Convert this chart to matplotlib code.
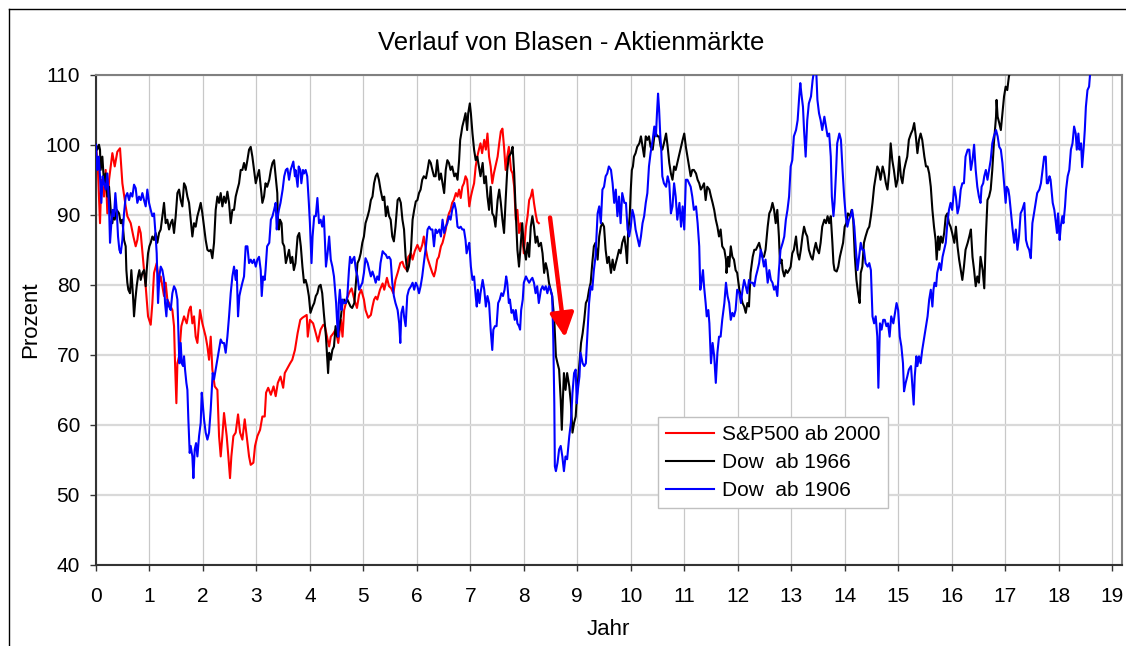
import matplotlib
matplotlib.use("Agg")
import matplotlib.pyplot as plt
from matplotlib.lines import Line2D

# ---------------- data (years since start, percent of start value) ----------------
sp_x = [0.0, 0.038, 0.075, 0.1, 0.15, 0.181, 0.212, 0.244, 0.306, 0.35, 0.399, 0.449, 0.493, 0.555, 0.586,
        0.649, 0.699, 0.742, 0.773, 0.805, 0.836, 0.898, 0.929, 0.973, 1.023, 1.054, 1.085, 1.135, 1.179, 1.21,
        1.241, 1.272, 1.303, 1.334, 1.397, 1.428, 1.459, 1.478, 1.503, 1.522, 1.553, 1.596, 1.646, 1.696, 1.74,
        1.771, 1.802, 1.833, 1.864, 1.896, 1.945, 1.989, 2.051, 2.083, 2.114, 2.145, 2.176, 2.22, 2.27, 2.301,
        2.332, 2.363, 2.394, 2.444, 2.475, 2.506, 2.531, 2.569, 2.612, 2.656, 2.694, 2.737, 2.781, 2.818, 2.862,
        2.893, 2.943, 2.974, 3.018, 3.068, 3.111, 3.155, 3.18,
        3.22, 3.27, 3.32, 3.36, 3.40, 3.45, 3.50, 3.53, 3.58, 3.63, 3.67, 3.72, 3.77, 3.82, 3.86, 3.90, 3.94,
        3.96, 4.0, 4.06, 4.11, 4.15, 4.2, 4.25, 4.28, 4.33, 4.36, 4.39, 4.44, 4.48, 4.53, 4.58, 4.61, 4.64, 4.69,
        4.73, 4.78, 4.83, 4.88, 4.92, 4.96, 5.01, 5.04, 5.09, 5.14, 5.17, 5.2, 5.23, 5.26, 5.31, 5.36, 5.39, 5.44,
        5.48, 5.52, 5.56, 5.6, 5.64, 5.69, 5.73, 5.76, 5.81, 5.84, 5.89, 5.92, 5.96, 6.01, 6.06, 6.1, 6.13, 6.17,
        6.2, 6.25, 6.29, 6.32,
        6.35, 6.38, 6.41, 6.45, 6.48, 6.51, 6.54, 6.57, 6.6, 6.63, 6.66, 6.69, 6.73, 6.76, 6.79, 6.82, 6.85, 6.88,
        6.91, 6.94, 6.98, 7.01, 7.04, 7.07, 7.1, 7.13, 7.16, 7.19, 7.22, 7.26, 7.29, 7.32, 7.35, 7.38, 7.41, 7.44,
        7.47, 7.51, 7.54, 7.57, 7.6, 7.63, 7.66, 7.69, 7.72, 7.76, 7.79, 7.82, 7.85, 7.88, 7.91, 7.94, 7.97, 8.0,
        8.04, 8.07, 8.1, 8.13, 8.16, 8.19, 8.22, 8.25, 8.28]
sp_y = [100.0, 96.0, 88.8, 95.0, 92.6, 96.4, 90.2, 95.0, 98.8, 96.9, 99.0, 99.5, 94.5, 91.2, 89.8,
        88.8, 86.9, 85.5, 86.4, 88.3, 87.4, 82.1, 79.8, 75.5, 74.3, 77.4, 81.7, 83.1, 80.3, 81.2,
        79.8, 78.4, 80.3, 77.9, 76.9, 76.4, 74.1, 68.8, 63.1, 68.8, 69.8, 74.1, 75.5, 74.5, 76.4,
        76.9, 74.5, 75.5, 72.6, 71.7, 76.4, 74.5, 72.6, 71.2, 69.3, 72.6, 67.9, 65.5, 65.0, 58.4,
        55.5, 58.4, 61.7, 58.4, 55.5, 52.4, 55.5, 58.4, 58.9, 61.5, 58.9, 57.9, 60.8, 58.4, 55.5,
        54.3, 54.6, 57.0, 58.4, 59.3, 61.2, 61.2, 64.6,
        65.3, 64.3, 65.5, 64.1, 66.0, 66.9, 65.3, 67.4, 68.1, 68.8, 69.3, 70.7, 73.1, 75.0, 75.3, 75.5, 75.7,
        72.6, 75.0, 74.5, 73.1, 71.9, 73.6, 74.3, 74.1, 72.2, 71.2, 72.6, 73.1, 73.6, 71.7, 75.0, 72.6, 76.4, 77.9,
        78.8, 79.5, 77.9, 76.7, 78.6, 79.3, 77.9, 76.4, 75.3, 75.7, 76.9, 77.9, 78.3, 77.9, 79.3, 80.2, 79.3, 81.0,
        79.8, 79.5, 78.8, 80.7, 81.7, 83.1, 83.3, 82.6, 82.1, 84.0, 84.5, 83.6, 84.8, 85.7, 84.8, 85.7, 86.9, 85.0,
        83.8, 82.6, 81.7, 81.2,
        82.1, 83.6, 84.0, 85.5, 86.0, 86.9, 87.9, 89.3, 90.2, 90.7, 91.7, 92.1, 93.1, 92.6, 93.6, 92.4, 94.0, 94.5,
        95.5, 95.0, 91.2, 92.6, 93.6, 94.5, 96.9, 98.3, 99.3, 100.2, 98.8, 100.7, 99.3, 101.6, 98.3, 96.9, 94.5, 95.9,
        96.9, 98.3, 100.2, 101.9, 102.3, 99.7, 96.4, 98.3, 99.7, 96.4, 95.9, 94.0, 89.3, 90.7, 87.4, 88.8, 86.9, 84.5,
        88.3, 89.8, 92.1, 92.6, 93.6, 91.7, 90.2, 89.0, 88.8]

dow66_x = [0.0, 0.025, 0.056, 0.075, 0.087, 0.119, 0.15, 0.181, 0.212, 0.244, 0.275, 0.306, 0.325, 0.35, 0.387,
           0.431, 0.462, 0.493, 0.524, 0.555, 0.568, 0.586, 0.605, 0.636, 0.661, 0.692, 0.711, 0.736, 0.761, 0.786,
           0.811, 0.836, 0.867, 0.898, 0.929, 0.948, 0.973, 0.998, 1.023, 1.054, 1.085, 1.116, 1.147, 1.179, 1.21,
           1.241, 1.272, 1.303, 1.334, 1.366, 1.397, 1.428, 1.459, 1.49, 1.522, 1.553, 1.584, 1.615, 1.646, 1.677,
           1.709, 1.74, 1.771, 1.802, 1.833, 1.864, 1.896, 1.927, 1.958, 1.989, 2.02, 2.051, 2.083, 2.114, 2.145,
           2.176, 2.207, 2.238, 2.27, 2.301, 2.332, 2.363, 2.394, 2.425, 2.457, 2.488, 2.519, 2.55, 2.581, 2.612,
           2.644, 2.675, 2.706, 2.737, 2.768, 2.799, 2.831, 2.862, 2.893, 2.924, 2.955, 2.987, 3.018, 3.049, 3.08,
           3.111, 3.142,
           3.17, 3.2, 3.24, 3.27, 3.3, 3.33, 3.36, 3.39, 3.40, 3.42, 3.44, 3.47, 3.49, 3.52, 3.55, 3.58, 3.61, 3.64,
           3.67, 3.70, 3.73, 3.77, 3.80, 3.83, 3.86, 3.89, 3.92, 3.95, 3.98, 4.01, 4.05, 4.08, 4.11, 4.14, 4.17, 4.2,
           4.23, 4.26, 4.3, 4.33, 4.34, 4.36, 4.39, 4.42, 4.45, 4.48, 4.51, 4.54, 4.58, 4.61, 4.64, 4.67, 4.7, 4.73,
           4.76, 4.79, 4.83, 4.86, 4.89, 4.92, 4.95, 4.98, 5.01, 5.04, 5.08, 5.11, 5.14, 5.17, 5.2, 5.23, 5.26, 5.29,
           5.32, 5.36, 5.39, 5.42, 5.45, 5.48, 5.51, 5.54, 5.57, 5.6, 5.64, 5.67, 5.7, 5.73, 5.76, 5.79, 5.82, 5.85,
           5.89, 5.92, 5.95, 5.98, 6.01, 6.04, 6.07, 6.1, 6.13, 6.17, 6.2, 6.23, 6.26, 6.29, 6.32,
           6.35, 6.38, 6.42, 6.45, 6.48, 6.51, 6.54, 6.57, 6.6, 6.63, 6.66, 6.7, 6.73, 6.76, 6.79, 6.81, 6.83, 6.85,
           6.88, 6.91, 6.94, 6.96, 6.99, 7.01, 7.04, 7.07, 7.1, 7.13, 7.16, 7.19, 7.23, 7.26, 7.29, 7.32, 7.35, 7.38,
           7.41, 7.44, 7.47, 7.51, 7.54, 7.57, 7.6, 7.63, 7.66, 7.69, 7.72, 7.76, 7.79, 7.82, 7.85, 7.88, 7.91, 7.94,
           7.97, 8.0, 8.04, 8.07, 8.1, 8.13, 8.16, 8.19, 8.22, 8.25, 8.28, 8.32, 8.35, 8.38, 8.41, 8.44, 8.47, 8.5,
           8.53, 8.57, 8.6, 8.63, 8.66, 8.69, 8.71, 8.73, 8.75, 8.78, 8.81, 8.85, 8.88, 8.91, 8.94, 8.97, 9.0, 9.03,
           9.07, 9.1, 9.13, 9.16, 9.19, 9.22, 9.25, 9.28, 9.31, 9.34, 9.38, 9.41, 9.44, 9.47, 9.5,
           9.53, 9.56, 9.59, 9.63, 9.66, 9.69, 9.72, 9.75, 9.78, 9.81, 9.84, 9.88, 9.91, 9.93, 9.95, 9.98, 10.0,
           10.02, 10.04, 10.06, 10.09, 10.12, 10.16, 10.19, 10.22, 10.25, 10.28, 10.31, 10.34, 10.37, 10.41, 10.44,
           10.47, 10.5, 10.53, 10.56, 10.59, 10.62, 10.66, 10.69, 10.72, 10.75, 10.78, 10.81, 10.84, 10.87, 10.91,
           10.94, 10.97, 11.0, 11.03, 11.06, 11.09, 11.12, 11.15, 11.18, 11.22, 11.25, 11.28, 11.31, 11.34, 11.37,
           11.4, 11.43, 11.47, 11.5, 11.53, 11.56, 11.59, 11.62, 11.65, 11.68, 11.71, 11.75, 11.78, 11.79, 11.82,
           11.84, 11.87, 11.9, 11.93, 11.96, 11.99, 12.03, 12.06, 12.09, 12.12, 12.15, 12.18, 12.21, 12.24, 12.28,
           12.31, 12.34, 12.37, 12.4, 12.43, 12.46, 12.49, 12.52, 12.56, 12.59, 12.62, 12.65, 12.68,
           12.71, 12.74, 12.77, 12.79, 12.82, 12.84, 12.87, 12.9, 12.93, 12.96, 12.99, 13.02, 13.05, 13.09, 13.12,
           13.15, 13.18, 13.21, 13.24, 13.27, 13.3, 13.33, 13.37, 13.4, 13.43, 13.46, 13.49, 13.52, 13.55, 13.58,
           13.62, 13.65, 13.68, 13.71, 13.74, 13.77, 13.79, 13.81, 13.85, 13.88, 13.91, 13.94, 13.97, 14.0, 14.03,
           14.06, 14.1, 14.13, 14.16, 14.19, 14.22, 14.25, 14.28, 14.3, 14.33, 14.36, 14.39, 14.43, 14.46, 14.49,
           14.52, 14.55, 14.58, 14.61, 14.64, 14.67, 14.71, 14.74, 14.77, 14.8, 14.83, 14.86, 14.89, 14.92, 14.96,
           14.99, 15.02, 15.05, 15.08, 15.11, 15.14, 15.17, 15.2, 15.24, 15.27, 15.3, 15.33, 15.36, 15.39, 15.42,
           15.45, 15.49, 15.52, 15.55, 15.58, 15.61, 15.64, 15.67, 15.7, 15.72, 15.75, 15.77, 15.8, 15.83, 15.86,
           15.89, 15.92, 15.95, 15.98, 16.01, 16.05, 16.08, 16.11, 16.14, 16.17, 16.2, 16.23, 16.26, 16.3, 16.33,
           16.36, 16.39, 16.42, 16.45, 16.48, 16.51, 16.54, 16.58, 16.61, 16.64, 16.67, 16.7, 16.73, 16.76, 16.79,
           16.83, 16.84, 16.86, 16.89, 16.92, 16.95, 16.98, 17.01, 17.04, 17.07, 17.11]
dow66_y = [100.0, 99.3, 100.0, 99.3, 96.4, 98.3, 94.5, 95.9, 92.6, 94.0, 90.7, 88.8, 90.2, 89.3, 90.7,
           90.2, 88.8, 89.3, 86.4, 85.5, 82.1, 80.3, 79.3, 78.8, 82.1, 78.4, 75.5, 77.9, 79.8, 81.2,
           82.1, 80.7, 81.7, 82.1, 79.8, 82.1, 84.5, 85.5, 86.0, 86.9, 86.4, 87.4, 86.0, 87.4, 87.9,
           89.8, 91.7, 88.8, 89.3, 87.9, 88.8, 89.3, 87.4, 89.8, 93.1, 93.6, 92.1, 91.2, 94.5, 94.0,
           92.6, 91.7, 89.3, 86.9, 88.8, 88.3, 89.8, 90.7, 91.7, 90.2, 88.3, 86.4, 85.0, 84.8, 85.0,
           83.8, 86.0, 90.7, 92.6, 91.7, 93.1, 91.2, 92.6, 91.7, 93.3, 91.7, 88.8, 90.7, 90.7, 92.6,
           93.6, 94.5, 96.4, 96.4, 97.4, 96.4, 97.8, 99.3, 99.7, 98.3, 96.4, 94.5, 95.5, 96.4, 94.0,
           91.7, 92.6,
           94.5, 94.0, 95.0, 96.4, 97.4, 97.8, 95.5, 93.1, 89.8, 87.9, 89.3, 88.8, 86.0, 85.5, 83.1, 84.0, 85.0, 83.1,
           84.0, 82.1, 83.1, 86.9, 87.4, 85.5, 82.6, 80.3, 80.7, 79.8, 78.4, 76.0, 76.9, 77.4, 78.4, 78.8, 79.8, 80.0,
           78.8, 76.0, 72.6, 68.8, 67.4, 70.3, 69.3, 70.7, 71.2, 74.1, 72.6, 73.6, 75.5, 77.4, 77.9, 77.4, 77.9, 77.4,
           76.9, 76.7, 77.4, 80.3, 83.1, 83.6, 84.5, 86.0, 86.9, 88.8, 89.8, 90.7, 92.1, 92.6, 94.5, 95.5, 95.9, 95.0,
           93.6, 92.1, 92.6, 89.8, 91.2, 89.8, 89.3, 86.9, 86.2, 88.3, 92.1, 92.4, 91.7, 89.3, 87.9, 84.0, 81.9, 82.6,
           85.0, 89.3, 90.7, 91.9, 92.1, 93.1, 93.6, 95.0, 95.5, 95.2, 96.4, 97.8, 97.4, 96.4, 95.5,
           95.5, 97.8, 95.0, 95.9, 94.5, 93.1, 96.4, 97.8, 97.4, 96.4, 96.9, 95.5, 95.9, 95.0, 97.8, 100.7, 101.6, 102.6,
           103.5, 104.5, 102.1, 104.5, 105.9, 104.5, 101.6, 99.3, 97.8, 98.3, 96.9, 95.5, 97.4, 94.5, 95.5, 92.6, 90.7, 94.0,
           90.2, 89.8, 88.3, 92.1, 93.6, 91.7, 89.3, 87.4, 92.1, 96.4, 98.3, 98.8, 99.7, 95.9, 90.2, 85.0, 82.6, 85.5,
           88.8, 85.5, 83.6, 86.0, 84.0, 88.3, 89.8, 88.3, 86.0, 86.9, 85.5, 86.0, 84.5, 81.7, 83.1, 82.1, 80.3, 79.3,
           78.4, 75.0, 69.8, 68.8, 67.9, 63.6, 59.3, 63.6, 67.4, 65.0, 67.4, 65.5, 63.1, 58.9, 60.3, 61.2, 65.0, 67.9,
           71.7, 73.1, 75.0, 77.4, 77.9, 79.3, 80.3, 83.1, 85.5, 86.0, 83.6, 86.9, 88.3, 88.8, 88.3,
           85.0, 83.1, 84.0, 81.7, 83.6, 82.1, 83.1, 84.0, 85.0, 84.5, 86.0, 86.9, 85.0, 83.1, 87.4, 89.8, 93.6,
           96.4, 96.9, 98.3, 98.8, 99.7, 100.2, 101.2, 99.7, 98.3, 101.2, 100.7, 101.2, 99.7, 99.3, 101.2,
           101.6, 101.2, 101.2, 99.7, 99.3, 100.2, 101.6, 99.7, 97.4, 95.9, 95.0, 96.9, 96.4, 97.4, 98.8,
           99.7, 100.7, 101.6, 99.7, 98.3, 96.9, 95.5, 96.4, 96.4, 95.9, 95.0, 94.5, 93.6, 94.0, 94.5,
           92.1, 94.0, 93.6, 92.6, 91.7, 90.7, 89.3, 88.3, 86.9, 87.9, 85.5, 85.0, 83.6, 81.7, 84.0,
           82.6, 85.5, 84.0, 83.6, 82.1, 81.7, 79.3, 78.4, 77.4, 76.9, 76.0, 77.4, 76.9, 81.7, 84.0,
           85.0, 85.0, 85.5, 86.0, 85.0, 84.0, 84.0, 85.0, 88.3, 90.2, 90.7, 91.7, 90.7,
           88.8, 90.7, 86.9, 83.1, 83.6, 82.1, 81.2, 82.1, 81.7, 82.1, 82.6, 84.5, 85.0, 86.9, 84.5,
           83.6, 85.0, 86.9, 88.3, 87.4, 86.9, 85.0, 84.0, 83.6, 85.0, 86.0, 85.0, 84.5, 86.0, 88.3,
           89.3, 88.8, 89.8, 88.8, 89.8, 86.0, 83.1, 82.1, 81.9, 82.6, 84.0, 85.0, 86.0, 88.3, 88.8,
           90.2, 89.8, 90.7, 89.3, 84.0, 80.7, 78.8, 77.4, 81.7, 82.6, 86.0, 86.9, 87.9, 88.3, 89.8,
           91.7, 94.0, 95.5, 96.9, 96.4, 95.0, 96.9, 95.9, 94.5, 93.6, 95.9, 100.2, 97.8, 96.4, 94.0,
           95.0, 98.3, 95.5, 94.5, 96.4, 97.4, 98.3, 100.7, 101.6, 102.1, 103.1, 101.2, 98.8, 100.7, 101.6,
           100.7, 98.3, 96.9, 96.9, 95.9, 94.0, 90.7, 88.3, 86.4, 83.6, 86.9, 85.0, 86.9, 86.0, 87.4,
           89.8, 90.2, 88.8, 88.3, 87.4, 86.0, 88.3, 85.5, 83.6, 82.1, 80.7, 82.6, 85.0, 86.0, 86.9,
           87.9, 84.0, 82.1, 79.8, 81.2, 80.3, 84.0, 82.1, 79.5, 86.9, 92.1, 92.6, 93.6, 96.4, 100.2,
           104.0, 106.4, 104.0, 103.1, 102.1, 104.5, 106.9, 108.3, 107.8, 109.7, 111.0]

dow06_x = [0.0, 0.025, 0.05, 0.075, 0.1, 0.125, 0.15, 0.181, 0.212, 0.244, 0.262, 0.287, 0.312, 0.337, 0.362,
           0.387, 0.412, 0.437, 0.462, 0.493, 0.524, 0.555, 0.586, 0.618, 0.649, 0.68, 0.711, 0.742, 0.773, 0.805,
           0.836, 0.867, 0.898, 0.929, 0.96, 0.992, 1.023, 1.054, 1.085, 1.116, 1.135, 1.16, 1.185, 1.21, 1.241,
           1.272, 1.291, 1.316, 1.334, 1.366, 1.397, 1.428, 1.459, 1.49, 1.522, 1.54, 1.559, 1.584, 1.603, 1.628,
           1.646, 1.665, 1.69, 1.709, 1.727, 1.752, 1.771, 1.802, 1.821, 1.846, 1.871, 1.896, 1.927, 1.958, 1.977,
           1.995, 2.02, 2.051, 2.083, 2.114, 2.145, 2.164, 2.182, 2.207, 2.238, 2.27, 2.301, 2.332, 2.363, 2.394,
           2.425, 2.457, 2.488, 2.519, 2.55, 2.581, 2.612, 2.631, 2.656, 2.681, 2.706, 2.737, 2.768, 2.799, 2.831,
           2.862, 2.893, 2.924, 2.955, 2.987, 3.018, 3.049, 3.08, 3.099, 3.124, 3.155,
           3.17, 3.2, 3.24, 3.27, 3.3, 3.33, 3.36, 3.38, 3.40, 3.42, 3.45, 3.49, 3.52, 3.55, 3.58, 3.61, 3.64, 3.67,
           3.69, 3.72, 3.73, 3.77, 3.79, 3.82, 3.84, 3.87, 3.89, 3.92, 3.95, 3.98, 4.0, 4.03, 4.05, 4.08, 4.11, 4.14,
           4.17, 4.2, 4.23, 4.26, 4.28, 4.3, 4.33, 4.36, 4.39, 4.42, 4.45, 4.47, 4.49, 4.51, 4.53, 4.54, 4.56, 4.59,
           4.61, 4.64, 4.67, 4.7, 4.73, 4.75, 4.78, 4.8, 4.83, 4.86, 4.89, 4.92, 4.95, 4.98, 5.01, 5.04, 5.08, 5.11,
           5.14, 5.17, 5.2, 5.23, 5.26, 5.29, 5.32, 5.36, 5.39, 5.42, 5.45, 5.48, 5.51, 5.54, 5.57, 5.6, 5.64, 5.67,
           5.69, 5.71, 5.74, 5.76, 5.79, 5.82, 5.85, 5.89, 5.92, 5.95, 5.98, 6.01, 6.04, 6.07, 6.1, 6.13, 6.17, 6.2,
           6.23, 6.26, 6.29, 6.32, 6.35,
           6.38, 6.42, 6.45, 6.48, 6.51, 6.54, 6.57, 6.6, 6.63, 6.66, 6.7, 6.73, 6.76, 6.79, 6.82, 6.85, 6.88, 6.91,
           6.93, 6.96, 6.98, 7.01, 7.04, 7.07, 7.1, 7.12, 7.14, 7.17, 7.19, 7.23, 7.26, 7.29, 7.32, 7.35, 7.38, 7.41,
           7.43, 7.46, 7.49, 7.52, 7.55, 7.58, 7.61, 7.64, 7.67, 7.69, 7.72, 7.74, 7.77, 7.8, 7.83, 7.85, 7.88, 7.91,
           7.93, 7.95, 7.98, 8.0, 8.04, 8.07, 8.1, 8.13, 8.16, 8.19, 8.22, 8.25, 8.28, 8.32, 8.35, 8.38, 8.41, 8.44,
           8.47, 8.5, 8.53, 8.55, 8.57, 8.58, 8.6, 8.63, 8.66, 8.69, 8.72, 8.75, 8.78, 8.81, 8.85, 8.88, 8.91, 8.94,
           8.97, 8.99, 9.01, 9.04, 9.06, 9.1, 9.13, 9.16, 9.19, 9.22, 9.25, 9.28, 9.31, 9.34, 9.38, 9.41, 9.44, 9.47,
           9.5, 9.53,
           9.56, 9.59, 9.63, 9.66, 9.69, 9.72, 9.75, 9.78, 9.81, 9.84, 9.88, 9.91, 9.94, 9.97, 10.0, 10.03, 10.06,
           10.09, 10.12, 10.16, 10.19, 10.22, 10.25, 10.28, 10.31, 10.34, 10.37, 10.41, 10.44, 10.47, 10.49, 10.51,
           10.53, 10.55, 10.57, 10.59, 10.62, 10.66, 10.69, 10.72, 10.75, 10.78, 10.81, 10.84, 10.87, 10.91, 10.94,
           10.97, 11.0, 11.03, 11.06, 11.09, 11.12, 11.15, 11.18, 11.22, 11.25, 11.28, 11.3, 11.32, 11.35, 11.37,
           11.4, 11.42, 11.45, 11.47, 11.5, 11.53, 11.56, 11.59, 11.62, 11.65, 11.68, 11.71, 11.75, 11.78, 11.81,
           11.84, 11.87, 11.9, 11.93, 11.96, 11.99, 12.03, 12.06, 12.09, 12.12, 12.15, 12.18, 12.21, 12.24, 12.28,
           12.31, 12.34, 12.37, 12.4, 12.43, 12.46, 12.49, 12.52, 12.56, 12.59, 12.62, 12.65, 12.68,
           12.71, 12.74, 12.77, 12.8, 12.84, 12.87, 12.9, 12.93, 12.96, 12.99, 13.02, 13.05, 13.09, 13.12, 13.15,
           13.17, 13.19, 13.22, 13.24, 13.27, 13.3, 13.33, 13.37, 13.4, 13.42, 13.44, 13.47, 13.49, 13.52, 13.55,
           13.58, 13.62, 13.65, 13.68, 13.71, 13.74, 13.76, 13.79, 13.81, 13.84, 13.86, 13.9, 13.93, 13.96, 13.99,
           14.02, 14.05, 14.08, 14.11, 14.14, 14.18, 14.21, 14.24, 14.27, 14.3, 14.33, 14.36, 14.39, 14.43, 14.46,
           14.49, 14.52, 14.55, 14.58, 14.61, 14.63, 14.66, 14.69, 14.72, 14.75, 14.78, 14.81, 14.84, 14.87, 14.91,
           14.94, 14.97, 15.0, 15.03, 15.06, 15.09, 15.11, 15.14, 15.17, 15.2, 15.24, 15.27, 15.29, 15.31, 15.34,
           15.36, 15.39, 15.42, 15.45, 15.49, 15.52, 15.55, 15.58, 15.61, 15.64, 15.66, 15.68, 15.71, 15.73, 15.77,
           15.8, 15.83, 15.86, 15.89,
           15.92, 15.95, 15.98, 16.01, 16.05, 16.08, 16.11, 16.14, 16.17, 16.2, 16.23, 16.26, 16.3, 16.33, 16.36,
           16.39, 16.42, 16.45, 16.48, 16.51, 16.54, 16.56, 16.59, 16.61, 16.64, 16.67, 16.7, 16.73, 16.76, 16.79,
           16.83, 16.86, 16.89, 16.92, 16.95, 16.98, 17.01, 17.03, 17.06, 17.08, 17.11, 17.14, 17.17, 17.2, 17.23,
           17.26, 17.29, 17.32, 17.36, 17.39, 17.42, 17.45, 17.48, 17.51, 17.54, 17.57, 17.6, 17.64, 17.67, 17.7,
           17.73, 17.76, 17.78, 17.8, 17.83, 17.85, 17.89, 17.92, 17.95, 17.97, 17.99, 18.02, 18.04, 18.07, 18.09,
           18.12, 18.14, 18.17, 18.2, 18.23, 18.26, 18.29, 18.32, 18.34, 18.37, 18.39, 18.42, 18.44, 18.47, 18.49,
           18.51, 18.54, 18.57, 18.59, 18.62]
dow06_y = [100.0, 96.4, 98.3, 95.5, 91.7, 95.5, 94.5, 93.6, 95.9, 91.2, 86.0, 88.8, 90.7, 89.8, 93.1,
           90.7, 86.9, 85.0, 84.5, 86.4, 90.2, 92.6, 93.1, 92.1, 93.1, 92.6, 94.3, 93.8, 91.7, 92.6,
           92.1, 93.1, 92.1, 91.2, 93.6, 91.7, 90.7, 89.8, 90.2, 86.9, 84.5, 77.4, 81.2, 82.6, 82.1,
           80.7, 77.4, 75.5, 77.9, 76.9, 76.4, 78.8, 79.8, 79.3, 77.9, 73.6, 68.8, 71.7, 68.8, 68.4,
           69.8, 67.9, 66.0, 65.0, 60.8, 56.0, 57.0, 55.5, 52.4, 56.5, 57.4, 55.5, 58.4, 60.3, 64.6,
           63.1, 60.8, 58.9, 57.9, 58.9, 62.2, 65.0, 67.4, 66.5, 67.9, 69.3, 70.7, 72.2, 71.7, 71.7,
           70.3, 72.6, 75.5, 78.8, 81.2, 82.6, 80.7, 82.1, 75.5, 78.4, 79.3, 80.3, 81.2, 85.5, 85.5,
           83.1, 83.6, 83.1, 83.6, 82.6, 83.6, 84.0, 82.1, 78.4, 81.2, 80.7,
           82.1, 85.5, 86.0, 89.3, 89.8, 90.7, 91.7, 87.9, 89.8, 90.7, 91.7, 93.6, 95.5, 96.4, 96.6, 95.0, 96.4, 97.1,
           97.6, 95.5, 96.4, 94.0, 96.9, 96.4, 94.5, 96.4, 95.9, 96.4, 95.5, 91.7, 88.8, 83.1, 86.9, 89.8, 89.8, 92.4,
           88.8, 89.3, 88.3, 89.8, 86.4, 82.6, 84.5, 86.9, 83.6, 82.6, 81.2, 79.3, 77.4, 74.5, 72.6, 77.4, 79.3, 76.4,
           77.9, 77.4, 77.4, 78.4, 82.1, 84.0, 83.1, 83.6, 84.0, 82.1, 81.2, 79.3, 79.8, 80.3, 81.7, 83.8, 83.1, 82.1,
           81.2, 81.9, 81.2, 80.3, 81.2, 80.7, 83.1, 84.8, 84.5, 84.3, 83.8, 84.0, 83.6, 80.3, 78.4, 77.4, 76.4, 74.5,
           71.7, 76.0, 76.9, 75.5, 74.1, 78.4, 79.3, 79.8, 80.3, 79.3, 80.3, 79.8, 78.8, 79.8, 81.2, 83.1, 85.5, 87.9,
           88.3, 87.9, 87.9, 85.5, 87.9,
           87.4, 87.9, 86.9, 89.3, 87.4, 88.3, 88.8, 89.8, 89.3, 90.7, 91.7, 90.7, 88.3, 88.1, 88.3, 87.9, 87.9, 86.4,
           84.5, 85.5, 86.0, 82.6, 80.7, 81.2, 78.4, 76.9, 79.3, 77.4, 78.8, 80.7, 79.3, 76.9, 78.4, 77.4, 73.6, 70.7,
           73.6, 74.1, 74.1, 77.4, 77.9, 78.8, 78.4, 79.3, 81.2, 80.3, 77.4, 77.9, 76.0, 76.4, 75.0, 76.4, 74.5, 74.1,
           73.6, 76.4, 77.9, 80.3, 81.2, 80.7, 80.3, 80.7, 81.0, 80.3, 78.8, 79.8, 77.4, 79.3, 79.8, 79.3, 79.8, 78.8,
           79.8, 79.3, 78.4, 72.6, 63.1, 54.1, 53.4, 54.6, 56.5, 57.0, 55.5, 53.4, 55.5, 55.1, 58.4, 60.3, 64.6, 67.4,
           67.9, 63.1, 65.0, 66.9, 70.3, 68.8, 68.4, 68.8, 73.1, 77.4, 79.8, 79.3, 82.1, 84.0, 90.2, 91.2, 88.8, 93.6,
           94.0, 95.5,
           95.9, 96.9, 96.4, 94.5, 91.7, 93.6, 89.8, 92.6, 88.8, 93.1, 91.7, 91.7, 87.9, 86.9, 88.3, 90.7, 89.8,
           87.9, 86.9, 85.5, 86.9, 88.8, 89.8, 91.7, 93.1, 96.9, 98.8, 100.7, 102.6, 101.2, 104.5, 107.3,
           105.0, 101.6, 99.3, 95.5, 94.5, 94.0, 95.5, 94.5, 90.2, 91.2, 94.5, 92.6, 89.3, 91.7, 88.3,
           91.2, 87.9, 95.0, 95.0, 94.5, 94.0, 92.6, 90.7, 91.2, 88.8, 85.5, 79.3, 80.3, 82.1, 79.8,
           77.4, 75.5, 76.4, 74.5, 68.8, 71.7, 69.8, 66.0, 70.3, 72.6, 72.6, 75.0, 77.4, 80.3, 78.4,
           77.4, 75.0, 76.0, 75.5, 76.4, 79.3, 78.8, 77.4, 79.3, 80.7, 79.8, 78.8, 80.7, 80.3, 80.3,
           79.8, 81.2, 82.1, 83.1, 85.0, 84.0, 82.6, 83.6, 80.3, 82.1, 80.7, 80.3, 79.3,
           79.8, 78.4, 82.1, 85.0, 86.0, 86.9, 89.3, 90.7, 92.6, 96.9, 97.8, 101.2, 102.1, 103.5, 106.9,
           108.8, 107.3, 105.4, 102.1, 98.3, 103.5, 105.9, 106.9, 109.2, 110.2, 110.2, 110.2, 106.4, 104.5, 103.5,
           102.1, 104.0, 102.6, 101.2, 101.6, 98.3, 92.6, 89.8, 91.7, 96.4, 100.2, 101.6, 100.7, 96.4, 92.6,
           89.8, 88.3, 89.3, 89.8, 90.7, 88.3, 85.0, 82.1, 84.0, 86.0, 85.0, 85.0, 83.1, 82.6, 83.1,
           82.1, 75.5, 74.5, 75.5, 72.6, 65.3, 74.5, 73.6, 75.0, 75.0, 74.1, 74.5, 72.6, 75.5, 74.5,
           76.0, 77.4, 76.4, 72.6, 71.2, 68.8, 64.8, 66.0, 66.9, 67.9, 68.4, 65.0, 62.9, 66.9, 69.8,
           68.4, 69.8, 68.8, 70.7, 72.6, 74.1, 75.5, 77.9, 79.3, 76.9, 79.3, 80.3, 79.8, 81.7, 83.1,
           82.1, 84.0, 85.0, 86.0,
           88.8, 90.7, 91.7, 90.7, 94.0, 92.6, 90.2, 91.2, 93.6, 94.5, 94.5, 98.3, 99.3, 99.3, 96.4,
           97.8, 100.0, 96.4, 94.0, 92.6, 91.7, 94.0, 94.5, 95.5, 96.4, 95.0, 96.4, 97.8, 100.2, 101.2,
           102.1, 101.2, 99.7, 99.3, 97.4, 94.5, 91.7, 94.0, 93.6, 92.6, 90.2, 87.9, 86.0, 87.9, 85.0,
           86.9, 90.2, 90.7, 91.7, 86.4, 85.5, 85.0, 83.8, 88.8, 90.2, 91.7, 93.1, 93.6, 94.5, 96.4,
           98.3, 98.3, 94.5, 94.5, 95.5, 95.0, 91.7, 90.7, 88.8, 87.4, 90.2, 86.4, 88.3, 89.8, 88.8,
           91.2, 93.6, 95.5, 96.4, 99.3, 100.2, 102.6, 101.6, 99.3, 101.6, 99.3, 100.2, 96.8, 99.7, 102.1,
           105.4, 107.8, 108.3, 110.2, 111.0]

series_labels = ["S&P500 ab 2000", "Dow  ab 1966", "Dow  ab 1906"]
x_ticks = list(range(0, 20))
y_ticks = list(range(40, 111, 10))
arrow_start = (8.49, 89.6)
arrow_end = (8.77, 72.5)

# ---------------- figure ----------------
plt.rcParams['font.family'] = ['Liberation Sans', 'DejaVu Sans']
W, H = 1126, 646
fig = plt.figure(figsize=(W / 100, H / 100), dpi=100)

# outer chart frame (left and top edges visible)
fig.add_artist(Line2D([8.5 / W, 8.5 / W], [0, 1 - 9 / H], transform=fig.transFigure, color='black', lw=1.0))
fig.add_artist(Line2D([8.5 / W, 1], [1 - 9 / H, 1 - 9 / H], transform=fig.transFigure, color='black', lw=1.0))

left, right, top, bottom = 96, 1121.7, 74.7, 565
ax = fig.add_axes([left / W, 1 - bottom / H, (right - left) / W, (bottom - top) / H])

ax.plot(sp_x, sp_y, color='#ff0000', lw=1.5, label=series_labels[0], zorder=2)
ax.plot(dow66_x, dow66_y, color='#000000', lw=1.5, label=series_labels[1], zorder=3)
ax.plot(dow06_x, dow06_y, color='#0000ff', lw=1.5, label=series_labels[2], zorder=4)

ax.annotate('', xy=arrow_end, xytext=arrow_start,
            arrowprops=dict(arrowstyle='-|>,head_length=0.6,head_width=0.3', color='#ff0000',
                            lw=3.2, mutation_scale=24, shrinkA=0, shrinkB=0), zorder=5)

ax.set_xlim(0, 19.18)
ax.set_ylim(40, 110)
ax.set_xticks(x_ticks)
ax.set_yticks(y_ticks)
ax.tick_params(axis='both', labelsize=15, direction='out', length=4.5, width=1.0, color='#333333')
ax.tick_params(axis='y', pad=7)
ax.tick_params(axis='x', pad=11)

ax.yaxis.grid(True, color='#d9d9d9', lw=1.6, zorder=0)
ax.xaxis.grid(True, color='#c8c8c8', lw=0.9, zorder=0)
ax.set_axisbelow(True)

for s in ['left', 'bottom']:
    ax.spines[s].set_color('#333333')
    ax.spines[s].set_linewidth(1.5)
for s in ['top', 'right']:
    ax.spines[s].set_color('#808080')
    ax.spines[s].set_linewidth(1.5)

ax.set_xlabel('Jahr', fontsize=16, labelpad=10)
ax.set_ylabel('Prozent', fontsize=16, labelpad=3)

fig.text(571 / W, 1 - 43 / H, 'Verlauf von Blasen - Aktienmärkte', fontsize=18.5,
         ha='center', va='center')

leg = ax.legend(loc='upper left', bbox_to_anchor=(658 / W, 1 - 417 / H), bbox_transform=fig.transFigure,
                fontsize=15, frameon=True, fancybox=False, borderaxespad=0, borderpad=0.4,
                handlelength=2.3, handletextpad=0.35, labelspacing=0.42, framealpha=1)
leg.get_frame().set_edgecolor('#c0c0c0')
leg.get_frame().set_linewidth(1.0)

fig.savefig('out.png', dpi=100)
